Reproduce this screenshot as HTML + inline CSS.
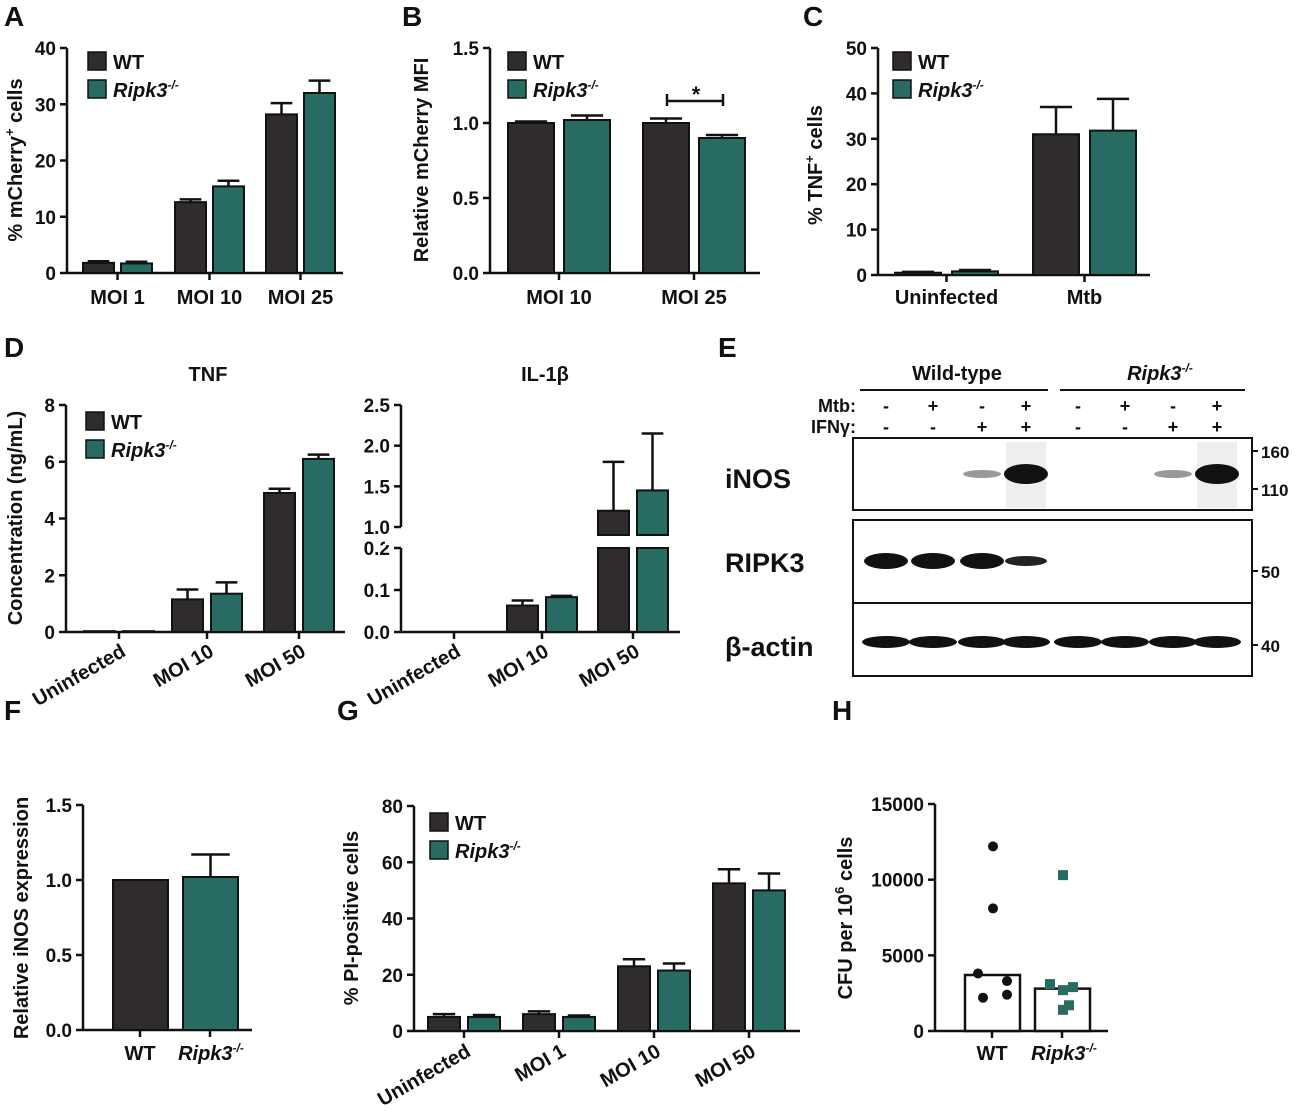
<!DOCTYPE html>
<html><head><meta charset="utf-8"><style>
body{margin:0;background:#fff}
svg{display:block;font-family:"Liberation Sans",Arial,sans-serif;font-weight:bold}
</style></head><body>
<svg id="fig" width="1299" height="1112" viewBox="0 0 1299 1112" xmlns="http://www.w3.org/2000/svg"></svg>
<script>
// ---- data ----
const aCats=["MOI 1","MOI 10","MOI 25"], aWT=[1.8,12.6,28.2], aWTe=[0.3,0.5,2.0], aKO=[1.7,15.4,32.0], aKOe=[0.3,1.0,2.2], aTicks=[0,10,20,30,40];
const bCats=["MOI 10","MOI 25"], bWT=[1.0,1.0], bWTe=[0.01,0.03], bKO=[1.02,0.9], bKOe=[0.03,0.02], bTicks=[0,0.5,1.0,1.5];
const cCats=["Uninfected","Mtb"], cWT=[0.5,31], cWTe=[0.2,6], cKO=[0.8,31.8], cKOe=[0.3,7], cTicks=[0,10,20,30,40,50];
const dCats=["Uninfected","MOI 10","MOI 50"], dWT=[0.03,1.15,4.9], dWTe=[0,0.35,0.15], dKO=[0.03,1.35,6.1], dKOe=[0,0.4,0.15], dTicks=[0,2,4,6,8];
const d2WT=[0,0.063,1.2], d2WTe=[0,0.012,0.6], d2KO=[0,0.083,1.45], d2KOe=[0,0.003,0.7], d2Low=[0,0.1,0.2], d2High=[1.0,1.5,2.0,2.5];
const fCats=["WT","Ripk3"], fVals=[1.0,1.02], fErr=[0,0.15], fTicks=[0,0.5,1.0,1.5];
const gCats=["Uninfected","MOI 1","MOI 10","MOI 50"], gWT=[5,6,23,52.5], gWTe=[1,1,2.5,5], gKO=[5,5,21.5,50], gKOe=[0.7,0.5,2.5,6], gTicks=[0,20,40,60,80];
const hWTpts=[12200,8100,3800,3300,2400,2200], hKOpts=[10300,3100,2900,2700,1700,1400], hMed=[3700,2800], hTicks=[0,5000,10000,15000];
const DK="#2f2b2e", TL="#286b62";
const S=document.getElementById('fig'), NS="http://www.w3.org/2000/svg";
function el(t,a,name,p){const e=document.createElementNS(NS,t);for(const k in a)e.setAttribute(k,a[k]);


(p||S).appendChild(e);return e;}
function txt(x,y,s,name,o){o=o||{};const e=el('text',{x:x,y:y,'font-size':o.fs||20,'text-anchor':o.a||'middle',fill:'#111'},name);
if(o.r)e.setAttribute('transform','rotate('+o.r+' '+x+' '+y+')');if(o.html)e.innerHTML=s;else e.textContent=s;return e;}
const KO='<tspan font-style="italic">Ripk3</tspan><tspan font-size="12" dy="-8" font-style="italic">-/-</tspan>';
function line(x1,y1,x2,y2,name,w){return el('line',{x1,y1,x2,y2,stroke:'#111','stroke-width':w||2.5},name);}
function yaxis(x,y0,y1,vmax,ticks,name,vmin,fmt){vmin=vmin||0;const sc=v=>y0-(v-vmin)/(vmax-vmin)*(y0-y1);
line(x,y0,x,y1,name+'-y-axis');ticks.forEach(t=>{line(x-7,sc(t),x,sc(t),name+'-tick');txt(x-11,sc(t)+7,fmt?fmt(t):String(t),name+'-tick-label',{a:'end',fs:19});});return sc;}
function bar(x,w,sc,v,e,col,name,y0){const y=sc(v);el('rect',{x:x,y:y,width:w,height:y0-y,fill:col,stroke:'#111','stroke-width':2},name);
if(e>0){const ye=sc(v+e);line(x+w/2,y,x+w/2,ye,name+'-error',2.5);line(x+w/2-(w*0.35),ye,x+w/2+(w*0.35),ye,name+'-error-cap',2.5);}}
function legend(x,y,name){el('rect',{x:x,y:y,width:18,height:18,fill:DK,stroke:'#111','stroke-width':1.5},name+'-wt-swatch');txt(x+25,y+17,'WT',name+'-wt-label',{a:'start'});
el('rect',{x:x,y:y+28,width:18,height:18,fill:TL,stroke:'#111','stroke-width':1.5},name+'-ko-swatch');txt(x+25,y+45,KO,name+'-ko-label',{a:'start',html:1});}
function letter(x,y,s){txt(x,y,s,'panel-'+s.toLowerCase()+'-letter',{fs:28,a:'start'});}
function grouped(ax,y0,y1,vmax,ticks,cats,wt,wte,ko,koe,x0s,w,gap,name,xend,labelY,rot){
const sc=yaxis(ax,y0,y1,vmax,ticks,name);line(ax,y0,xend,y0,name+'-x-axis');
cats.forEach((c,i)=>{const x=x0s[i];bar(x,w,sc,wt[i],wte[i],DK,name+'-bar-wt-'+i,y0);bar(x+w+gap,w,sc,ko[i],koe[i],TL,name+'-bar-ko-'+i,y0);
line(x+w+gap/2,y0,x+w+gap/2,y0+7,name+'-x-tick');
if(rot)txt(x+w+gap/2+8,labelY,c,name+'-x-label',{a:'end',r:-30});else txt(x+w+gap/2,labelY,c,name+'-x-label');});return sc;}
// A
letter(4,26,'A');
grouped(67,273,48,40,aTicks,aCats,aWT,aWTe,aKO,aKOe,[83,175,266],31,7,'panel-a',343,304);
txt(22,160,'% mCherry<tspan font-size="13" dy="-8">+</tspan><tspan dy="8"> cells</tspan>','panel-a-y-title',{r:-90,html:1});
legend(88,52,'panel-a-legend');
// B
letter(402,26,'B');
grouped(490,273,48,1.5,[],bCats,bWT,bWTe,bKO,bKOe,[508,643],46,10,'panel-b',760,304);
{const sc=v=>273-v/1.5*225;bTicks.forEach(t=>{line(483,sc(t),490,sc(t),'panel-b-tick');txt(479,sc(t)+7,t.toFixed(1),'panel-b-tick-label',{a:'end',fs:19});});
line(667,101,723,101,'panel-b-significance-bar');line(667,94,667,106,'panel-b-significance-bar');line(723,94,723,106,'panel-b-significance-bar');txt(696,102,'*','panel-b-significance-star',{fs:22});}
txt(428,160,'Relative mCherry MFI','panel-b-y-title',{r:-90});
legend(508,52,'panel-b-legend');
// C
letter(803,26,'C');
grouped(878,275,48,50,cTicks,cCats,cWT,cWTe,cKO,cKOe,[895,1033],46,11,'panel-c',1150,304);
txt(822,165,'% TNF<tspan font-size="13" dy="-8">+</tspan><tspan dy="8"> cells</tspan>','panel-c-y-title',{r:-90,html:1});
legend(893,52,'panel-c-legend');
// D left
letter(4,357,'D');
txt(208,381,'TNF','panel-d-tnf-title');
grouped(66,632,405,8,dTicks,dCats,dWT,dWTe,dKO,dKOe,[84,172,264],31,8,'panel-d-tnf',345,655,1);
txt(22,518,'Concentration (ng/mL)','panel-d-y-title',{r:-90});
legend(86,412,'panel-d-legend');
// D right (broken axis)
txt(545,381,'IL-1β','panel-d-il1b-title');
{const x=401,lo=v=>632-v/0.2*84,hi=v=>527-(v-1)/1.5*122;
line(x,632,x,548,'panel-d-il1b-y-axis-low');line(x,527,x,405,'panel-d-il1b-y-axis-high');line(x,632,680,632,'panel-d-il1b-x-axis');
d2Low.forEach(t=>{line(x-7,lo(t),x,lo(t),'tick');txt(x-11,lo(t)+7,t.toFixed(1),'panel-d-il1b-tick-label',{a:'end',fs:19});});
d2High.forEach(t=>{line(x-7,hi(t),x,hi(t),'tick');txt(x-11,hi(t)+7,t.toFixed(1),'panel-d-il1b-tick-label',{a:'end',fs:19});});
const xs=[419,507,598],w=31,g=8;
function bb(xx,v,e,col,nm){if(v<=0.2){bar(xx,w,lo,v,e,col,nm,632);return;}
el('rect',{x:xx,y:548,width:w,height:84,fill:col,stroke:'#111','stroke-width':2},nm+'-low');
const y=hi(v);el('rect',{x:xx,y:y,width:w,height:527-y+8,fill:col,stroke:'#111','stroke-width':2},nm+'-high');
const ye=hi(v+e);line(xx+w/2,y,xx+w/2,ye,nm+'-error');line(xx+w*0.15,ye,xx+w*0.85,ye,nm+'-error-cap');}
dCats.forEach((c,i)=>{bb(xs[i],d2WT[i],d2WTe[i],DK,'panel-d-il1b-bar-wt-'+i);bb(xs[i]+w+g,d2KO[i],d2KOe[i],TL,'panel-d-il1b-bar-ko-'+i);
line(xs[i]+w+g/2,632,xs[i]+w+g/2,639,'x-tick');txt(xs[i]+w+g/2+8,655,c,'panel-d-il1b-x-label',{a:'end',r:-30});});
el('rect',{x:385,y:536,width:300,height:9,fill:'#fff'},'axis-break-gap');}
// E blot
letter(718,357,'E');
txt(957,380,'Wild-type','blot-wt-header');txt(1160,380,KO,'blot-ko-header',{html:1});
line(860,390,1048,390,'blot-wt-line',2);line(1060,390,1245,390,'blot-ko-line',2);
const lanes=[886,933,982,1026,1078,1125,1173,1217],mtb=['-','+','-','+','-','+','-','+'],ifn=['-','-','+','+','-','-','+','+'];
txt(856,412,'Mtb:','blot-mtb-label',{a:'end',fs:18});txt(856,433,'IFNγ:','blot-ifng-label',{a:'end',fs:18});
lanes.forEach((x,i)=>{txt(x,412,mtb[i],'blot-mtb-sign',{fs:18});txt(x,433,ifn[i],'blot-ifng-sign',{fs:18});});
[[438,510],[520,603],[603,676]].forEach((b,i)=>el('rect',{x:853,y:b[0],width:399,height:b[1]-b[0],fill:'#fff',stroke:'#111','stroke-width':2},'blot-box-'+i));
txt(725,488,'iNOS','blot-inos-label',{a:'start',fs:27});txt(725,572,'RIPK3','blot-ripk3-label',{a:'start',fs:27});txt(725,656,'β-actin','blot-actin-label',{a:'start',fs:27});
[[1252,451,'160'],[1252,489,'110'],[1252,571,'50'],[1252,645,'40']].forEach(m=>{line(m[0],m[1],m[0]+6,m[1],'mw-tick',2);txt(m[0]+9,m[1]+7,m[2],'blot-mw-label',{a:'start',fs:17});});
el('rect',{x:1006,y:442,width:40,height:66,fill:'#eee'},'band-inos-smear');
el('rect',{x:1197,y:442,width:40,height:66,fill:'#eee'},'band-inos-smear');
el('ellipse',{cx:982,cy:474,rx:19,ry:4,fill:'#999'},'band-inos-weak');el('ellipse',{cx:1026,cy:474,rx:22,ry:10,fill:'#111'},'band-inos-strong');
el('ellipse',{cx:1173,cy:474,rx:19,ry:4,fill:'#999'},'band-inos-weak');el('ellipse',{cx:1217,cy:474,rx:22,ry:10,fill:'#111'},'band-inos-strong');
[886,933,982].forEach(x=>el('ellipse',{cx:x,cy:561,rx:22,ry:8,fill:'#111'},'band-ripk3'));el('ellipse',{cx:1026,cy:561,rx:21,ry:5,fill:'#222'},'band-ripk3');
lanes.forEach(x=>el('ellipse',{cx:x,cy:642,rx:24,ry:6,fill:'#111'},'band-actin'));
// F
letter(4,720,'F');
{const sc=yaxis(83,1030,805,1.5,[],'panel-f');fTicks.forEach(t=>{line(76,sc(t),83,sc(t),'tick');txt(72,sc(t)+7,t.toFixed(1),'panel-f-tick-label',{a:'end',fs:19});});
line(83,1030,252,1030,'panel-f-x-axis');const xs=[113,183],cols=[DK,TL];
fCats.forEach((c,i)=>{bar(xs[i],55,sc,fVals[i],fErr[i],cols[i],'panel-f-bar-'+i,1030);line(xs[i]+27,1030,xs[i]+27,1037,'x-tick');});
txt(140,1060,'WT','panel-f-x-label');txt(211,1060,KO,'panel-f-x-label',{html:1});
txt(28,918,'Relative iNOS expression','panel-f-y-title',{r:-90});}
// G
letter(337,720,'G');
grouped(414,1031,806,80,gTicks,gCats,gWT,gWTe,gKO,gKOe,[428,523,618,713],32,8,'panel-g',800,1055,1);
txt(358,918,'% PI-positive cells','panel-g-y-title',{r:-90});
legend(430,813,'panel-g-legend');
// H
letter(832,720,'H');
{const sc=yaxis(935,1031,804,15000,hTicks,'panel-h');line(935,1031,1108,1031,'panel-h-x-axis');
[965,1035].forEach((x,i)=>{const y=sc(hMed[i]);el('rect',{x:x,y:y,width:55,height:1031-y,fill:'#fff',stroke:'#111','stroke-width':2.5},'panel-h-median-bar-'+i);line(x+27,1031,x+27,1038,'x-tick');});
const wx=[993,993,978,1007,1007,983],kx=[1063,1050,1073,1063,1069,1063];
hWTpts.forEach((v,i)=>el('circle',{cx:wx[i],cy:sc(v),r:5,fill:'#111'},'panel-h-wt-point'));
hKOpts.forEach((v,i)=>el('rect',{x:kx[i]-5,y:sc(v)-5,width:10,height:10,fill:TL},'panel-h-ko-point'));
txt(992,1060,'WT','panel-h-x-label');txt(1064,1060,KO,'panel-h-x-label',{html:1});
txt(852,918,'CFU per 10<tspan font-size="13" dy="-8">6</tspan><tspan dy="8"> cells</tspan>','panel-h-y-title',{r:-90,html:1});}
</script>
</body></html>
